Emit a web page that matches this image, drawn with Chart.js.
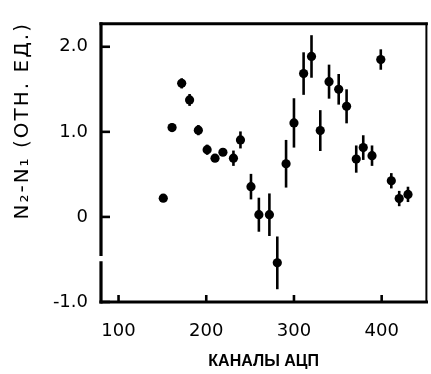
<!DOCTYPE html>
<html><head><meta charset="utf-8">
<script src="https://cdn.jsdelivr.net/npm/chart.js@4/dist/chart.umd.min.js"></script>
<style>html,body{margin:0;padding:0;background:#fff}canvas{display:block}</style>
</head><body>
<canvas id="c" width="431" height="374" style="width:431px;height:374px"></canvas>
<script>
// ---- data ----
const channels = [151, 161, 172, 181, 191, 201, 210, 219, 231, 239, 251, 260, 272, 281, 291, 300, 311, 320, 330, 340, 351, 360, 371, 379, 389, 399, 411, 420, 430];
const values   = [0.22, 1.05, 1.57, 1.375, 1.02, 0.79, 0.69, 0.76, 0.69, 0.905, 0.356, 0.026, 0.026, -0.54, 0.625, 1.105, 1.685, 1.886, 1.015, 1.59, 1.50, 1.30, 0.68, 0.815, 0.72, 1.85, 0.425, 0.216, 0.265];
const errors   = [0.04, 0.05, 0.06, 0.07, 0.06, 0.06, 0.04, 0.04, 0.09, 0.10, 0.15, 0.20, 0.25, 0.31, 0.28, 0.29, 0.25, 0.25, 0.24, 0.20, 0.18, 0.20, 0.16, 0.145, 0.12, 0.12, 0.09, 0.09, 0.09];
const xTickValues = [100, 200, 300, 400];
const xTickLabels = ['100', '200', '300', '400'];
const yTickValues = [-1, 0, 1, 2];
const yTickLabels = ['-1.0', '0', '1.0', '2.0'];
const xTitle = 'КАНАЛЫ АЦП';
const yTitle = 'N₂-N₁ (ОТН. ЕД.)';

const points = channels.map((c, i) => ({x: c, y: values[i]}));

const framePlugin = {
  id: 'frame',
  afterDatasetsDraw(chart) {
    const ctx = chart.ctx, xs = chart.scales.x, ys = chart.scales.y;
    ctx.save();
    ctx.strokeStyle = '#000';
    ctx.lineWidth = 2.6;
    ctx.lineCap = 'butt';
    channels.forEach((c, i) => {
      const px = xs.getPixelForValue(c);
      ctx.beginPath();
      ctx.moveTo(px, ys.getPixelForValue(values[i] + errors[i]));
      ctx.lineTo(px, ys.getPixelForValue(values[i] - errors[i]));
      ctx.stroke();
    });
    ctx.restore();
  },
  afterDraw(chart) {
    const ctx = chart.ctx, a = chart.chartArea, xs = chart.scales.x, ys = chart.scales.y;
    ctx.save();
    ctx.strokeStyle = '#000';
    ctx.lineCap = 'square';
    // top & right
    ctx.lineWidth = 3;
    ctx.beginPath(); ctx.moveTo(a.left, a.top); ctx.lineTo(a.right, a.top); ctx.stroke();
    ctx.lineWidth = 2;
    ctx.beginPath(); ctx.moveTo(a.right, a.top); ctx.lineTo(a.right, a.bottom); ctx.stroke();
    // bottom
    ctx.lineWidth = 3.2;
    ctx.beginPath(); ctx.moveTo(a.left, a.bottom); ctx.lineTo(a.right, a.bottom); ctx.stroke();
    // left, with axis break
    ctx.lineCap = 'butt';
    ctx.beginPath();
    ctx.moveTo(a.left, a.top - 1.5); ctx.lineTo(a.left, ys.getPixelForValue(-0.46));
    ctx.moveTo(a.left, ys.getPixelForValue(-0.52)); ctx.lineTo(a.left, a.bottom + 1.5);
    ctx.stroke();
    // inward ticks
    ctx.lineWidth = 2.6;
    yTickValues.forEach(v => {
      const py = ys.getPixelForValue(v);
      ctx.beginPath(); ctx.moveTo(a.left, py); ctx.lineTo(a.left + 9, py); ctx.stroke();
    });
    xTickValues.forEach(v => {
      const px = xs.getPixelForValue(v);
      ctx.beginPath(); ctx.moveTo(px, a.bottom); ctx.lineTo(px, a.bottom - 7); ctx.stroke();
    });
    // rotated y title
    ctx.fillStyle = '#000';
    ctx.font = '20px "DejaVu Sans"';
    ctx.letterSpacing = '2px';
    ctx.textAlign = 'center';
    ctx.textBaseline = 'middle';
    ctx.translate(a.left - 78, a.top + 97);
    ctx.rotate(-Math.PI / 2);
    ctx.fillText(yTitle, 0, 0);
    ctx.restore();
  }
};

new Chart(document.getElementById('c'), {
  type: 'scatter',
  data: {
    datasets: [{
      data: points,
      pointStyle: 'circle',
      pointRadius: 4.6,
      pointHoverRadius: 4.6,
      backgroundColor: '#000',
      borderColor: '#000',
      borderWidth: 0
    }]
  },
  options: {
    responsive: false,
    devicePixelRatio: 1,
    animation: false,
    events: [],
    layout: {padding: {top: 15, right: 1, left: 0, bottom: 0}},
    plugins: {legend: {display: false}, tooltip: {enabled: false}},
    scales: {
      x: {
        type: 'linear', min: 80, max: 451,
        afterBuildTicks: s => { s.ticks = xTickValues.map(v => ({value: v})); },
        afterFit: s => { s.height = 72; },
        grid: {display: false, drawTicks: false},
        border: {display: false},
        ticks: {
          callback: v => xTickLabels[xTickValues.indexOf(v)],
          color: '#000', font: {family: '"DejaVu Sans"', size: 18},
          padding: 19, maxRotation: 0, autoSkip: false
        },
        title: {
          display: true, text: xTitle, color: '#000',
          font: {family: '"Liberation Sans"', size: 16, weight: 'bold'},
          padding: {top: 0, bottom: 3}
        }
      },
      y: {
        type: 'linear', min: -1, max: 2.27,
        afterBuildTicks: s => { s.ticks = yTickValues.map(v => ({value: v})); },
        afterFit: s => { s.width = 101; },
        grid: {display: false, drawTicks: false},
        border: {display: false},
        ticks: {
          callback: v => yTickLabels[yTickValues.indexOf(v)],
          color: '#000', font: {family: '"DejaVu Sans"', size: 18},
          padding: 13, autoSkip: false
        }
      }
    }
  },
  plugins: [framePlugin]
});
</script>
</body></html>
